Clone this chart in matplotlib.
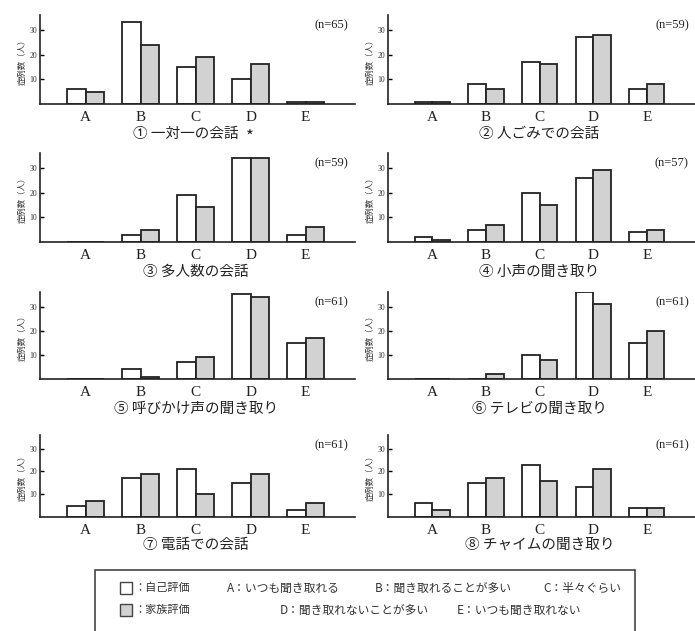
import numpy as np
import matplotlib
matplotlib.use("Agg")
import matplotlib.pyplot as plt
from matplotlib.patches import Rectangle

plt.rcParams['font.family'] = ['Noto Sans CJK JP', 'DejaVu Sans']

# categories and panel data
cats = ['A', 'B', 'C', 'D', 'E']
titles = ['① 一対一の会話', '② 人ごみでの会話', '③ 多人数の会話', '④ 小声の聞き取り',
          '⑤ 呼びかけ声の聞き取り', '⑥ テレビの聞き取り', '⑦ 電話での会話', '⑧ チャイムの聞き取り']
n_vals = [65, 59, 59, 57, 61, 61, 61, 61]

# self evaluation (自己評価)
self_vals = [
    [6, 33, 15, 10, 1],
    [1, 8, 17, 27, 6],
    [0, 3, 19, 34, 3],
    [2, 5, 20, 26, 4],
    [0, 4, 7, 35, 15],
    [0, 0, 10, 36, 15],
    [5, 17, 21, 15, 3],
    [6, 15, 23, 13, 4],
]
# family evaluation (家族評価)
family_vals = [
    [5, 24, 19, 16, 1],
    [1, 6, 16, 28, 8],
    [0, 5, 14, 34, 6],
    [1, 7, 15, 29, 5],
    [0, 1, 9, 34, 17],
    [0, 2, 8, 31, 20],
    [7, 19, 10, 19, 6],
    [3, 17, 16, 21, 4],
]

W, H = 695, 631
fig = plt.figure(figsize=(W / 100, H / 100), dpi=100)

# pixel layout of the axes (top, bottom) for each row
rows_px = [(15, 104), (153, 242), (292, 379), (435, 517)]
cols_px = [(40, 355), (388, 695)]
serif = ['Liberation Serif', 'DejaVu Serif']

x = np.arange(len(cats))
bw = 0.33
for i in range(8):
    r, c = divmod(i, 2)
    top, bot = rows_px[r]
    lft, rgt = cols_px[c]
    ax = fig.add_axes([lft / W, 1 - bot / H, (rgt - lft) / W, (bot - top) / H])
    ax.bar(x - bw / 2, self_vals[i], bw, color='white', edgecolor='#222222', linewidth=1.3)
    ax.bar(x + bw / 2, family_vals[i], bw, color='#d2d2d2', edgecolor='#222222', linewidth=1.3)
    ax.set_xlim(-0.83, 4.9)
    ax.set_ylim(0, 36)
    ax.set_yticks([10, 20, 30])
    ax.set_yticklabels(['10', '20', '30'], fontsize=5.5, family=serif, color='#333333')
    ax.tick_params(axis='y', direction='in', length=3, width=1, pad=2)
    ax.set_xticks(x)
    ax.set_xticklabels(cats, fontsize=11, family=serif, color='#222222')
    ax.tick_params(axis='x', length=0, pad=5)
    for s in ['top', 'right']:
        ax.spines[s].set_visible(False)
    for s in ['left', 'bottom']:
        ax.spines[s].set_linewidth(1.2)
        ax.spines[s].set_color('#222222')
    ax.set_ylabel('症例数（人）', fontsize=6, labelpad=2, color='#333333')
    ax.text(0.98, 0.88, '(n=%d)' % n_vals[i], transform=ax.transAxes, ha='right', va='center',
            fontsize=9, family=serif, color='#222222')
    tx = 1.82 if i == 0 else 2
    ax.text(tx, -0.34, titles[i], transform=ax.get_xaxis_transform(), ha='center', va='center',
            fontsize=10.5, color='#222222')
    if i == 0:
        ax.text(2.98, -0.37, '*', transform=ax.get_xaxis_transform(), ha='center', va='center',
                fontsize=12, color='#222222')

# legend box
fig.patches.append(Rectangle((95 / W, 1 - 640 / H), 540 / W, 70 / H, transform=fig.transFigure,
                             facecolor='none', edgecolor='#444444', linewidth=1.2))
for yy, fc, lab in [(588, 'white', '：自己評価'), (610, '#d2d2d2', '：家族評価')]:
    fig.patches.append(Rectangle((120 / W, 1 - (yy + 6) / H), 12 / W, 12 / H, transform=fig.transFigure,
                                 facecolor=fc, edgecolor='#444444', linewidth=1))
    fig.text(134 / W, 1 - yy / H, lab, fontsize=8, va='center', color='#333333')

legend_items = [(227, 588, 'A：いつも聞き取れる'), (375, 588, 'B：聞き取れることが多い'),
                (543, 588, 'C：半々ぐらい'), (280, 610, 'D：聞き取れないことが多い'),
                (457, 610, 'E：いつも聞き取れない')]
for px, py, lab in legend_items:
    fig.text(px / W, 1 - py / H, lab, fontsize=8.5, va='center', color='#333333')

fig.savefig('out.png', dpi=100)
